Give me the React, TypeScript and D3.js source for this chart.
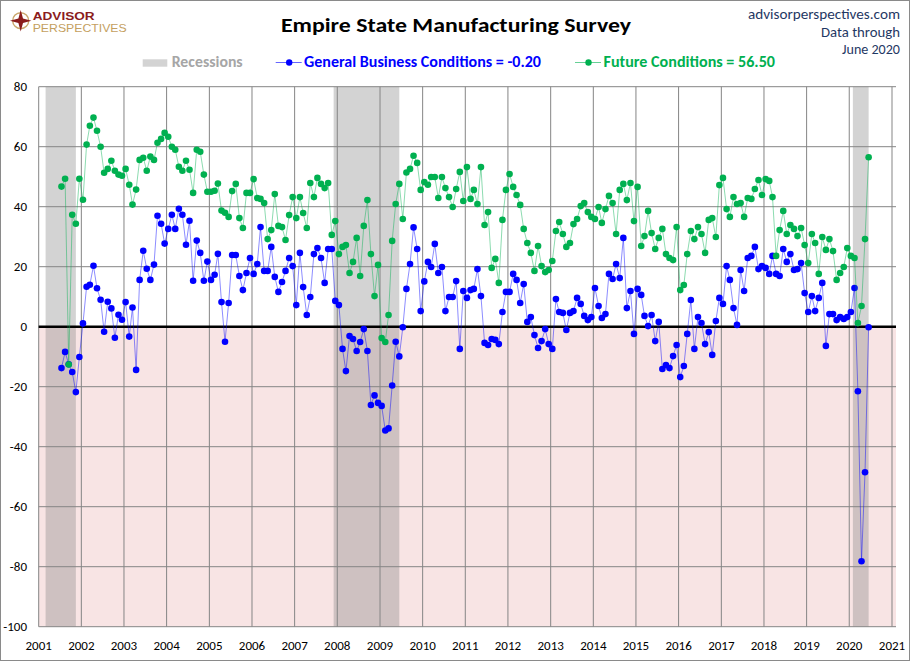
import React, { useRef, useEffect } from 'react';
import * as d3 from 'd3';

// monthly readings, Jul 2001 .. Jun 2020
const generalBusiness = [
  -13.8, -8.4, -12.5, -15.1, -21.8, -10.1,
  1.1, 13.3, 14.0, 20.3, 12.8, 9.0, -1.7, 8.3, 6.1, -3.7, 4.0, 2.3,
  8.2, -3.3, 6.4, -14.4, 15.6, 25.3, 19.3, 15.6, 20.7, 37.0, 34.3, 27.7,
  32.6, 37.3, 32.6, 39.3, 37.3, 27.3, 35.3, 15.3, 28.7, 24.6, 15.3, 21.7,
  15.6, 17.3, 24.3, 8.2, -5.0, 7.9, 23.9, 23.9, 16.9, 12.2, 17.9, 22.9,
  17.6, 20.9, 33.2, 18.6, 18.6, 26.6, 16.6, 11.6, 14.9, 18.6, 22.9, 20.2,
  7.2, 24.6, 13.2, 3.9, 9.9, 24.2, 26.2, 22.9, 14.6, 25.9, 25.9, 8.6,
  7.2, -7.4, -14.8, -3.1, -4.1, -8.1, -5.1, -0.8, -8.1, -26.1, -22.9, -25.4,
  -26.4, -34.6, -33.9, -19.6, -5.0, -9.9, -0.2, 12.6, 20.9, 33.1, 25.9, 5.2,
  15.1, 21.6, 19.9, 27.6, 17.9, 19.9, 5.2, 9.9, 9.9, 15.2, -7.4, 11.9,
  9.6, 12.2, 12.6, 19.2, 10.2, -5.4, -6.1, -4.1, -4.4, -5.8, 4.9, 11.6,
  11.6, 17.6, 15.6, 7.9, 14.2, 1.6, 3.2, -2.8, -7.1, -4.8, -0.8, -5.8,
  -7.4, 9.2, 4.9, 4.6, -1.1, 4.6, 5.2, 9.6, 7.6, 3.6, 2.2, 3.2,
  12.9, 6.9, 2.9, 4.2, 17.6, 15.9, 20.9, 16.2, 29.6, 6.2, 11.9, -2.4,
  12.6, 10.6, 3.6, 0.2, 3.9, -4.8, 1.6, -14.1, -12.8, -13.8, -9.8, -6.1,
  -16.8, -13.1, -2.4, 8.9, -7.4, 3.2, 1.2, -5.8, -1.8, -9.4, 1.9, 9.6,
  7.6, 20.2, 15.6, 6.2, 0.6, 18.9, 11.9, 22.9, 23.6, 26.6, 19.2, 20.2,
  19.6, 17.6, 23.6, 17.6, 16.9, 25.9, 21.6, 24.2, 18.9, 19.2, 21.2, 11.2,
  4.9, 10.2, 5.2, 9.6, 14.6, -6.4, 4.2, 4.2, 2.2, 3.2, 2.6, 3.2,
  4.9, 12.9, -21.5, -78.2, -48.5, -0.2,
];

const futureConditions = [
  46.7, 49.3, -12.6, 37.3, 34.3, 49.3,
  42.3, 60.7, 67.0, 69.7, 65.3, 60.0, 51.3, 52.6, 55.3, 52.0, 50.7, 50.3,
  52.6, 47.3, 40.7, 45.7, 55.6, 56.3, 52.0, 56.7, 55.6, 61.3, 62.6, 64.6,
  63.3, 60.0, 59.0, 53.3, 52.0, 55.3, 52.3, 44.6, 59.0, 58.3, 50.7, 45.0,
  45.0, 45.3, 47.7, 38.7, 38.0, 36.6, 45.2, 47.6, 36.2, 32.9, 44.6, 44.6,
  49.2, 42.9, 42.6, 41.2, 29.2, 32.2, 44.2, 33.6, 33.2, 28.9, 37.2, 43.2,
  36.2, 43.2, 37.9, 32.9, 47.9, 43.2, 49.6, 47.6, 46.2, 47.9, 30.6, 35.2,
  24.2, 26.6, 27.2, 17.9, 21.6, 29.6, 16.9, 33.6, 42.2, 24.2, 10.2, 20.6,
  -3.8, -5.1, 3.9, 28.6, 40.9, 47.6, 35.9, 51.4, 52.6, 57.0, 54.6, 45.6,
  48.2, 47.3, 49.9, 49.9, 42.9, 49.9, 46.2, 43.2, 39.9, 45.9, 51.6, 41.9,
  53.2, 42.6, 45.6, 40.9, 53.2, 33.9, 38.2, 19.6, 22.6, 14.6, 35.6, 45.6,
  50.9, 46.6, 43.9, 40.6, 32.6, 27.9, 24.6, 18.6, 26.9, 20.2, 18.2, 18.9,
  21.9, 31.9, 34.9, 30.9, 26.6, 27.9, 34.2, 35.9, 40.2, 41.2, 38.2, 36.6,
  35.9, 39.9, 34.6, 39.2, 43.6, 41.2, 30.9, 45.6, 47.6, 42.2, 47.9, 35.2,
  46.6, 26.9, 30.2, 38.6, 31.2, 25.9, 29.6, 32.6, 24.2, 22.9, 22.2, 33.2,
  12.2, 13.9, 24.2, 31.9, 29.2, 33.2, 30.9, 24.6, 35.6, 36.2, 29.9, 47.2,
  49.6, 39.2, 36.6, 43.2, 40.9, 41.2, 36.6, 42.9, 42.6, 45.9, 48.9, 43.9,
  49.2, 48.6, 43.2, 23.6, 32.2, 38.6, 30.9, 33.9, 32.6, 30.2, 32.9, 27.2,
  21.2, 30.9, 27.9, 17.6, 29.9, 25.6, 29.2, 25.2, 15.6, 17.9, 19.9, 26.2,
  23.6, 22.9, 1.2, 6.9, 29.2, 56.5,
];

const recessionStarts = ['2001-03-01', '2007-12-01', '2020-02-01'];
const recessionEnds = ['2001-11-15', '2009-06-15', '2020-06-15'];

const yearTicks = d3.range(2001, 2022);
const valueTicks = d3.range(-100, 81, 20);

const FONT = 'Carlito, Calibri, Lato, sans-serif';
const LOGO_FONT = '"Liberation Sans", Arial, sans-serif';

const App: React.FC = () => {
  const svgRef = useRef<SVGSVGElement>(null);
  const width = 910;
  const height = 661;

  useEffect(() => {
    const svg = d3.select(svgRef.current);
    svg.selectAll('*').remove();

    const left = 38.7, right = 896, top = 86.7, bottom = 626.7;

    const x = d3.scaleTime()
      .domain([new Date(2001, 0, 1), new Date(2021, 0, 1)])
      .range([left, 892]);
    const y = d3.scaleLinear().domain([-100, 80]).range([bottom, top]);

    const dateAt = (i: number) => new Date(2001, 6 + i, 15);
    const parse = d3.timeParse('%Y-%m-%d');

    // frame
    svg.append('rect')
      .attr('x', 0.5).attr('y', 0.5)
      .attr('width', width - 1).attr('height', height - 1)
      .attr('fill', '#fff').attr('stroke', '#8a8a8a');

    // negative region
    svg.append('rect')
      .attr('x', left).attr('y', y(0))
      .attr('width', right - left).attr('height', y(-100) - y(0))
      .attr('fill', '#f8e4e4');

    // recessions
    svg.append('g').selectAll('rect')
      .data(recessionStarts.map((s, i) => [parse(s)!, parse(recessionEnds[i])!]))
      .enter().append('rect')
      .attr('x', d => x(d[0]))
      .attr('width', d => x(d[1]) - x(d[0]))
      .attr('y', top).attr('height', bottom - top)
      .attr('fill', '#7f7f7f').attr('opacity', 0.34);

    // grid
    const grid = svg.append('g').attr('stroke', '#858585').attr('stroke-width', 1);
    grid.selectAll('line.v').data(yearTicks).enter().append('line')
      .attr('x1', d => x(new Date(d, 0, 1))).attr('x2', d => x(new Date(d, 0, 1)))
      .attr('y1', top).attr('y2', bottom);
    grid.selectAll('line.h').data(valueTicks).enter().append('line')
      .attr('x1', left).attr('x2', right)
      .attr('y1', d => y(d)).attr('y2', d => y(d));

    // zero line
    svg.append('line')
      .attr('x1', left).attr('x2', right)
      .attr('y1', y(0)).attr('y2', y(0))
      .attr('stroke', '#000').attr('stroke-width', 2.5);

    // axis labels
    svg.append('g').selectAll('text').data(yearTicks).enter().append('text')
      .attr('x', d => x(new Date(d, 0, 1)))
      .attr('y', 650)
      .attr('text-anchor', 'middle')
      .attr('font-family', FONT).attr('font-size', 13).attr('fill', '#000')
      .text(d => d);
    svg.append('g').selectAll('text').data(valueTicks).enter().append('text')
      .attr('x', 27).attr('y', d => y(d) + 4.5)
      .attr('text-anchor', 'end')
      .attr('font-family', FONT).attr('font-size', 13).attr('fill', '#000')
      .text(d => d);

    const drawSeries = (values: number[], color: string) => {
      const pts = values.map((v, i) => ({ d: dateAt(i), v }));
      const line = d3.line<{ d: Date; v: number }>().x(p => x(p.d)).y(p => y(p.v));
      svg.append('path').datum(pts)
        .attr('d', line)
        .attr('fill', 'none').attr('stroke', color)
        .attr('stroke-width', 1).attr('stroke-opacity', 0.45);
      svg.append('g').selectAll('circle').data(pts).enter().append('circle')
        .attr('cx', p => x(p.d)).attr('cy', p => y(p.v))
        .attr('r', 3.3).attr('fill', color);
    };
    drawSeries(generalBusiness, '#0000ff');
    drawSeries(futureConditions, '#00b050');

    // title
    svg.append('text')
      .attr('x', 456).attr('y', 32)
      .attr('text-anchor', 'middle')
      .attr('font-family', FONT).attr('font-weight', 'bold').attr('font-size', 21)
      .attr('textLength', 350).attr('lengthAdjust', 'spacingAndGlyphs')
      .attr('fill', '#000')
      .text('Empire State Manufacturing Survey');

    // source block
    const src = svg.append('g')
      .attr('font-family', FONT).attr('font-size', 14)
      .attr('fill', '#1f3864').attr('text-anchor', 'end');
    src.append('text').attr('x', 900).attr('y', 18.5)
      .attr('textLength', 152).attr('lengthAdjust', 'spacingAndGlyphs').text('advisorperspectives.com');
    src.append('text').attr('x', 900).attr('y', 36.5)
      .attr('textLength', 79).attr('lengthAdjust', 'spacingAndGlyphs').text('Data through');
    src.append('text').attr('x', 900).attr('y', 54)
      .attr('textLength', 58).attr('lengthAdjust', 'spacingAndGlyphs').text('June 2020');

    // logo
    const logo = svg.append('g');
    logo.append('circle').attr('cx', 20.7).attr('cy', 20.7).attr('r', 8)
      .attr('fill', 'none').attr('stroke', '#c9a66b').attr('stroke-width', 1.4);
    logo.append('path')
      .attr('d', 'M20.7,10 L23,18.4 L31.4,20.7 L23,23 L20.7,31.4 L18.4,23 L10,20.7 L18.4,18.4 Z')
      .attr('fill', '#8b1c1c');
    logo.append('text').attr('x', 32.7).attr('y', 20.4)
      .attr('font-family', LOGO_FONT).attr('font-weight', 'bold').attr('font-size', 10.5)
      .attr('textLength', 62).attr('lengthAdjust', 'spacingAndGlyphs')
      .attr('fill', '#8b1c1c').text('ADVISOR');
    logo.append('text').attr('x', 32.7).attr('y', 32.3)
      .attr('font-family', LOGO_FONT).attr('font-size', 10.5)
      .attr('textLength', 94).attr('lengthAdjust', 'spacingAndGlyphs')
      .attr('fill', '#c4a060').text('PERSPECTIVES');

    // legend
    const lg = svg.append('g').attr('font-family', FONT).attr('font-weight', 'bold').attr('font-size', 15);
    lg.append('rect').attr('x', 142.7).attr('y', 59.3).attr('width', 24.6).attr('height', 7.4).attr('fill', '#d3d3d3');
    lg.append('text').attr('x', 171.7).attr('y', 66.7).attr('fill', '#a6a6a6')
      .attr('textLength', 71).attr('lengthAdjust', 'spacingAndGlyphs').text('Recessions');

    const legendItem = (x0: number, tx: number, len: number, color: string, label: string) => {
      lg.append('line').attr('x1', x0).attr('x2', x0 + 26).attr('y1', 62.5).attr('y2', 62.5)
        .attr('stroke', color).attr('stroke-opacity', 0.6);
      lg.append('circle').attr('cx', x0 + 13.5).attr('cy', 62.5).attr('r', 3.2).attr('fill', color);
      lg.append('text').attr('x', tx).attr('y', 66.7).attr('fill', color)
        .attr('textLength', len).attr('lengthAdjust', 'spacingAndGlyphs').text(label);
    };
    legendItem(275.7, 304, 237, '#0000ff', `General Business Conditions = ${generalBusiness[generalBusiness.length - 1].toFixed(2)}`);
    legendItem(575, 603.5, 171.5, '#00b050', `Future Conditions = ${futureConditions[futureConditions.length - 1].toFixed(2)}`);
  }, []);

  return (
    <svg
      ref={svgRef}
      width={width}
      height={height}
      style={{ position: 'absolute', left: 0, top: 0, display: 'block' }}
    />
  );
};

export default App;
